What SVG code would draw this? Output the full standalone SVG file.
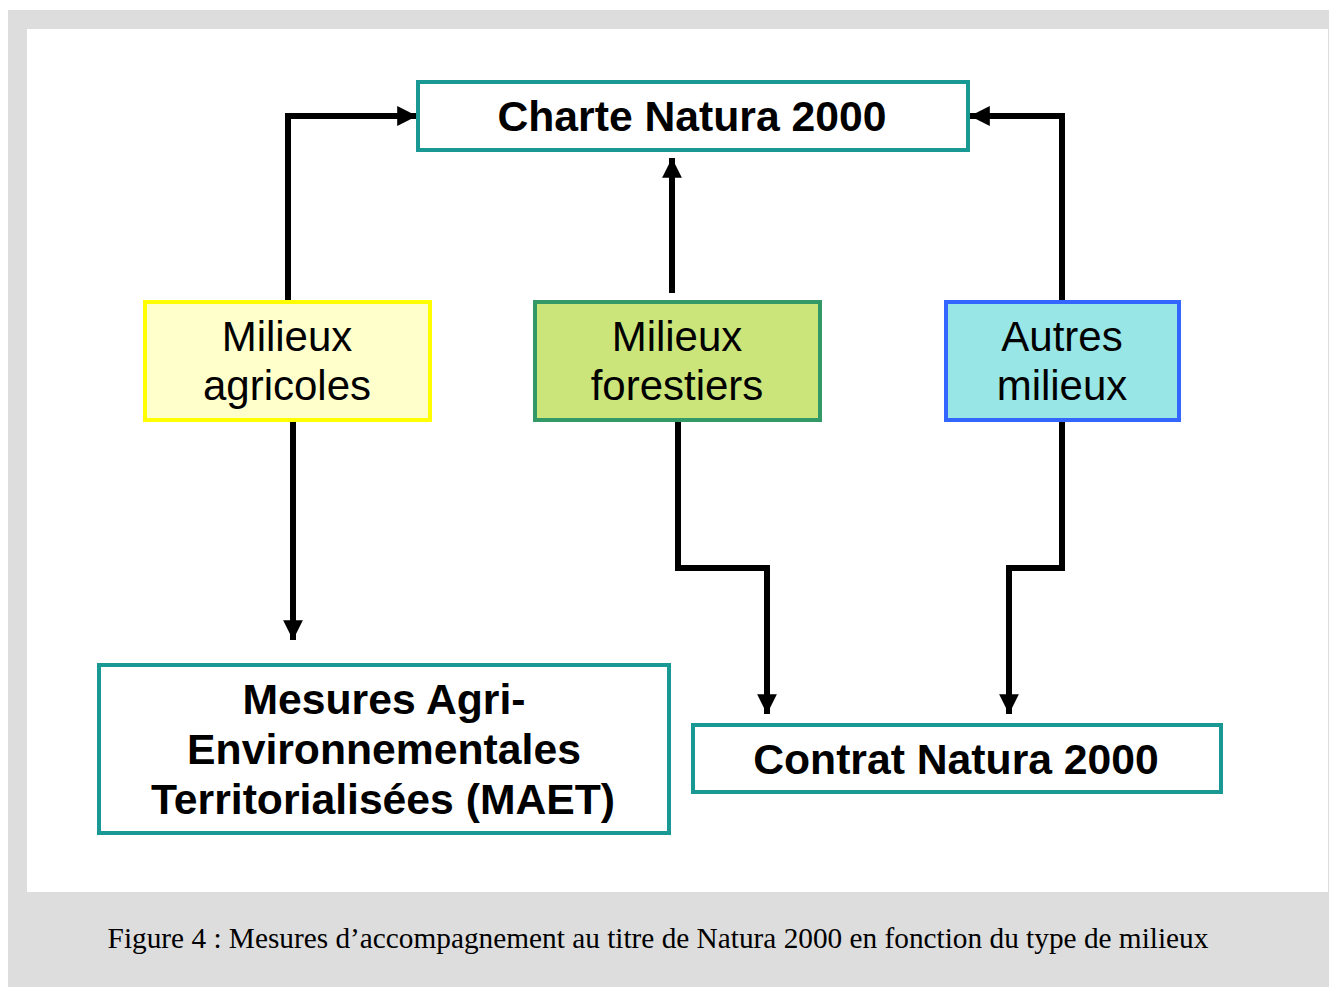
<svg xmlns="http://www.w3.org/2000/svg" width="1335" height="987" viewBox="0 0 1335 987">
<defs>
<style>
.box{stroke-width:4}
.teal{fill:#ffffff;stroke:#1a9994}
.tb{font-family:"Liberation Sans",Arial,sans-serif;font-weight:bold;font-size:42.7px;fill:#000;text-anchor:middle}
.tr{font-family:"Liberation Sans",Arial,sans-serif;font-size:42px;fill:#000;text-anchor:middle}
.conn{fill:none;stroke:#000;stroke-width:6}
</style>
<marker id="ah" viewBox="0 0 10 10" refX="10" refY="5" markerWidth="3.3" markerHeight="3.3" markerUnits="strokeWidth" orient="auto">
<path d="M0,0 L10,5 L0,10 Z" fill="#000"/>
</marker>
</defs>
<rect x="8" y="10" width="1321" height="977" fill="#dddddd"/>
<rect x="27" y="29" width="1301" height="863" fill="#ffffff"/>
<g id="connectors">
<path class="conn" d="M288,302 V116 H417" marker-end="url(#ah)"/>
<path class="conn" d="M672,293 V158" marker-end="url(#ah)"/>
<path class="conn" d="M1062,302 V116 H970" marker-end="url(#ah)"/>
<path class="conn" d="M293,420 V640" marker-end="url(#ah)"/>
<path class="conn" d="M678,420 V568 H767 V714" marker-end="url(#ah)"/>
<path class="conn" d="M1062,420 V568 H1009 V714" marker-end="url(#ah)"/>
</g>
<g id="charte">
<rect class="box teal" x="418" y="82" width="550" height="68"/>
<text class="tb" x="692" y="131">Charte Natura 2000</text>
</g>
<g id="agricoles">
<rect class="box" x="145" y="302" width="285" height="118" fill="#ffffcc" stroke="#ffff00"/>
<text class="tr" x="287" y="351">Milieux</text>
<text class="tr" x="287" y="400">agricoles</text>
</g>
<g id="forestiers">
<rect class="box" x="535" y="302" width="285" height="118" fill="#cce57a" stroke="#339966"/>
<text class="tr" x="677" y="351">Milieux</text>
<text class="tr" x="677" y="400">forestiers</text>
</g>
<g id="autres">
<rect class="box" x="946" y="302" width="233" height="118" fill="#99e6e6" stroke="#3366ff"/>
<text class="tr" x="1062" y="351">Autres</text>
<text class="tr" x="1062" y="400">milieux</text>
</g>
<g id="maet">
<rect class="box teal" x="99" y="665" width="570" height="168"/>
<text class="tb" x="384" y="714">Mesures Agri-</text>
<text class="tb" x="384" y="764">Environnementales</text>
<text class="tb" x="383" y="814">Territorialisées (MAET)</text>
</g>
<g id="contrat">
<rect class="box teal" x="693" y="725" width="528" height="67"/>
<text class="tb" x="956" y="774">Contrat Natura 2000</text>
</g>
<text x="658" y="948" font-family="Liberation Serif,Times New Roman,serif" font-size="29.3" fill="#000" text-anchor="middle">Figure 4 : Mesures d’accompagnement au titre de Natura 2000 en fonction du type de milieux</text>
</svg>
